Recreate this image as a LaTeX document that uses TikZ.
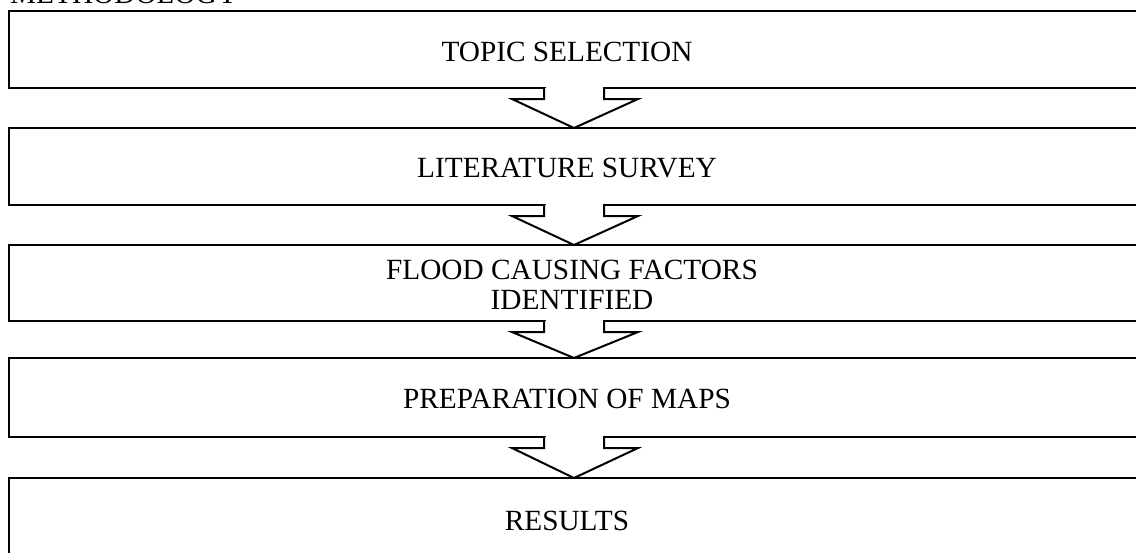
\documentclass[tikz,border=0pt]{standalone}
\usepackage{fontspec}
\setmainfont{Liberation Serif}
\begin{document}
\begin{tikzpicture}[x=1pt,y=-1pt,
  stagebox/.style={line width=2.6pt},
  stagetext/.style={font=\fontsize{29.3}{30}\selectfont,align=center,inner sep=0pt},
  flowarrow/.style={line width=2pt,fill=white,line join=miter}]
\useasboundingbox (0,0) rectangle (1136,552);
\clip (0,0) rectangle (1136,552);

\node[stagetext,anchor=base west] (title) at (10,3) {METHODOLOGY};

\draw[stagebox] (9,11) rectangle (1150,88);
\draw[stagebox] (9,128) rectangle (1150,205);
\draw[stagebox] (9,245) rectangle (1150,321);
\draw[stagebox] (9,358) rectangle (1150,437);
\draw[stagebox] (9,478) rectangle (1150,562);

\node[stagetext] (topic) at (567,52) {TOPIC SELECTION};
\node[stagetext] (survey) at (567,168) {LITERATURE SURVEY};
\node[stagetext] (factors) at (572,285) {FLOOD CAUSING FACTORS\\IDENTIFIED};
\node[stagetext] (maps) at (567,399) {PREPARATION OF MAPS};
\node[stagetext] (results) at (567,521) {RESULTS};

\foreach \yb/\yt in {88/128, 205/245, 321/358, 437/478} {
  \fill[white] (545.5,\yb-2) rectangle (602.5,\yb+2);
  \filldraw[flowarrow] (544,\yb) -- (544,\yb+11) -- (512,\yb+11) -- (574,\yt)
    -- (638,\yb+11) -- (604,\yb+11) -- (604,\yb);
}
\end{tikzpicture}
\end{document}
